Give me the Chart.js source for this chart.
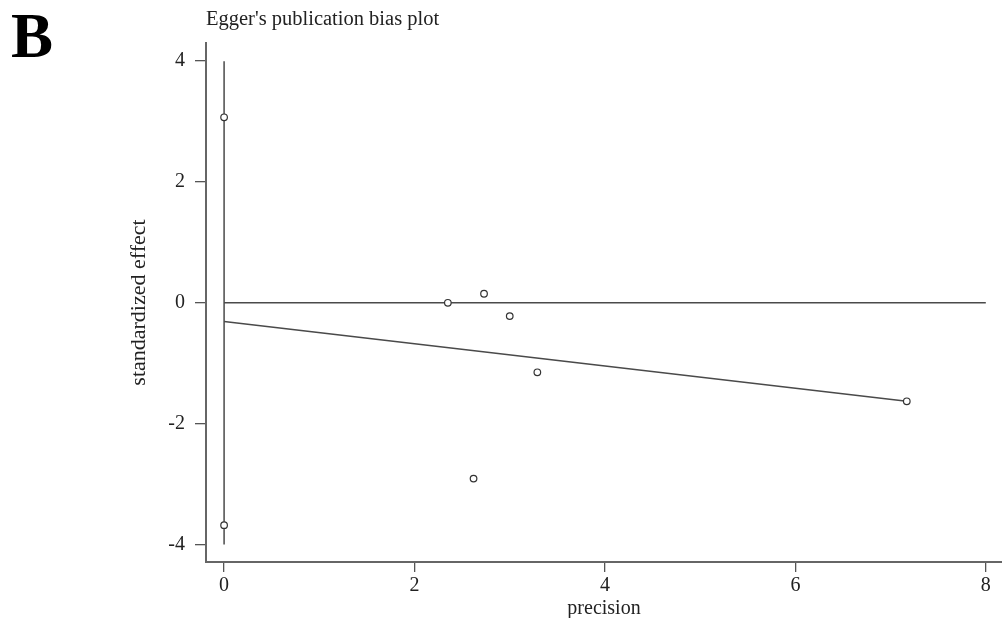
<!DOCTYPE html>
<html>
<head>
<meta charset="utf-8">
<script src="https://cdn.jsdelivr.net/npm/chart.js@4/dist/chart.umd.min.js"></script>
<style>
  html, body { margin: 0; padding: 0; background: #fff; }
  #wrap { width: 1002px; height: 618px; position: relative; }
</style>
</head>
<body>
<div id="wrap"><canvas id="c" width="1002" height="618"></canvas></div>
<script>
// Studies: precision (1/SE) and standardized effect (effect/SE)
const studyPrecision = [2.35, 2.73, 3.00, 3.29, 2.62, 7.17];
const studyEffect    = [0.00, 0.15, -0.22, -1.15, -2.91, -1.63];

// Confidence bounds of the Egger intercept, shown at precision 0
const ciPrecision = [0, 0];
const ciBounds    = [3.07, -3.68];

// Fitted Egger regression line (intercept to last study)
const fitPrecision = [0, 7.17];
const fitEffect    = [-0.31, -1.63];

// Reference lines: vertical at precision 0, horizontal at effect 0
const vRefX = [0, 0];
const vRefY = [-4, 4];
const hRefX = [0, 8];
const hRefY = [0, 0];

// Tick labels
const xTicks = [0, 2, 4, 6, 8];
const yTicks = [-4, -2, 0, 2, 4];

const toPts = (xs, ys) => xs.map((x, i) => ({ x: x, y: ys[i] }));

const serif = '"Liberation Serif", "Times New Roman", serif';
const ink = '#222';
const lineInk = '#4a4a4a';

const headerText = {
  id: 'headerText',
  afterDraw(chart) {
    const ctx = chart.ctx;
    ctx.save();
    ctx.fillStyle = '#000';
    ctx.textAlign = 'left';
    ctx.textBaseline = 'alphabetic';
    ctx.font = 'bold 63px ' + serif;
    ctx.fillText('B', 11, 57);
    ctx.fillStyle = ink;
    ctx.font = '20.5px ' + serif;
    ctx.fillText("Egger's publication bias plot", 206, 25);
    ctx.restore();
  }
};

new Chart(document.getElementById('c'), {
  type: 'scatter',
  data: {
    datasets: [
      {
        label: 'studies',
        data: toPts(studyPrecision, studyEffect),
        pointStyle: 'circle',
        pointRadius: 3.3,
        pointBorderWidth: 1.2,
        pointBorderColor: '#333',
        pointBackgroundColor: '#fff',
        showLine: false,
        order: 0
      },
      {
        label: 'intercept CI',
        data: toPts(ciPrecision, ciBounds),
        pointStyle: 'circle',
        pointRadius: 3.3,
        pointBorderWidth: 1.2,
        pointBorderColor: '#333',
        pointBackgroundColor: '#fff',
        showLine: false,
        order: 0
      },
      {
        label: 'fit',
        data: toPts(fitPrecision, fitEffect),
        showLine: true,
        borderColor: lineInk,
        borderWidth: 1.5,
        pointRadius: 0,
        order: 1
      },
      {
        label: 'vertical reference',
        data: toPts(vRefX, vRefY),
        showLine: true,
        borderColor: lineInk,
        borderWidth: 1.5,
        pointRadius: 0,
        order: 2
      },
      {
        label: 'horizontal reference',
        data: toPts(hRefX, hRefY),
        showLine: true,
        borderColor: lineInk,
        borderWidth: 1.5,
        pointRadius: 0,
        order: 2
      }
    ]
  },
  options: {
    responsive: false,
    animation: false,
    events: [],
    layout: { autoPadding: false, padding: { top: 43, left: 120, right: 0, bottom: 0 } },
    plugins: {
      legend: { display: false },
      tooltip: { enabled: false },
      title: { display: false }
    },
    scales: {
      x: {
        type: 'linear',
        min: -0.19,
        max: 8.17,
        afterBuildTicks: (s) => { s.ticks = xTicks.map(v => ({ value: v })); },
        afterFit: (s) => { s.height = 56; s.paddingLeft = 0; s.paddingRight = 0; },
        grid: { drawOnChartArea: false, drawTicks: true, tickLength: 10, color: '#555', lineWidth: 1.3 },
        border: { display: true, color: '#666', width: 2 },
        ticks: { color: ink, font: { family: serif, size: 20 }, padding: 2, maxRotation: 0 },
        title: { display: true, text: 'precision', color: ink, font: { family: serif, size: 20 }, padding: { top: 0, bottom: -3 } }
      },
      y: {
        type: 'linear',
        min: -4.29,
        max: 4.3,
        afterBuildTicks: (s) => { s.ticks = yTicks.map(v => ({ value: v })); },
        afterFit: (s) => { s.width = 86; s.paddingTop = 0; s.paddingBottom = 0; },
        grid: { drawOnChartArea: false, drawTicks: true, tickLength: 11, color: '#555', lineWidth: 1.3 },
        border: { display: true, color: '#666', width: 2 },
        ticks: { color: ink, font: { family: serif, size: 20 }, padding: 10 },
        title: { display: true, text: 'standardized effect', color: ink, font: { family: serif, size: 22 }, padding: { top: 6, bottom: 0 } }
      }
    }
  },
  plugins: [headerText]
});
</script>
</body>
</html>
